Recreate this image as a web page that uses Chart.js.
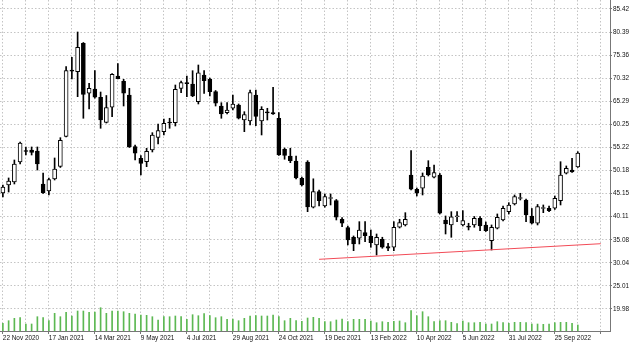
<!DOCTYPE html>
<html>
<head>
<meta charset="utf-8">
<script src="https://cdn.jsdelivr.net/npm/chart.js@4/dist/chart.umd.min.js"></script>
<style>
  html, body { margin: 0; padding: 0; background: #fff; }
</style>
</head>
<body>
<canvas id="chart" width="635" height="343"></canvas>
<script>
"use strict";

// weekly candles, first bar = week of 22 Nov 2020
const WEEK_LABELS = ["22 Nov 2020", "17 Jan 2021", "14 Mar 2021", "9 May 2021", "4 Jul 2021",
  "29 Aug 2021", "24 Oct 2021", "19 Dec 2021", "13 Feb 2022", "10 Apr 2022", "5 Jun 2022",
  "31 Jul 2022", "25 Sep 2022"];

const PRICE_TICKS = [19.98, 25.01, 30.04, 35.08, 40.11, 45.15, 50.18, 55.22, 60.25, 65.29,
  70.32, 75.36, 80.39, 85.42];

const OPEN = [45.29, 47.03, 47.69, 52.05, 54.45, 54.66, 54.45, 47.25, 45.72, 48.34,
  51.07, 57.61, 72.11, 71.74, 77.94, 67.03, 67.97, 66.16, 60.66, 63.98,
  70.80, 69.65, 66.66, 55.38, 52.85, 52.11, 54.66, 57.43, 58.66, 60.66,
  60.62, 68.12, 69.21, 69.06, 65.20, 71.02, 70.08, 67.38, 64.26, 62.80,
  63.76, 64.48, 61.21, 60.99, 66.66, 60.99, 62.82, 62.80, 61.58, 54.82,
  53.36, 52.27, 48.49, 52.05, 42.17, 45.57, 42.45, 44.09, 43.61, 39.55,
  37.72, 35.63, 35.41, 36.63, 35.91, 33.95, 35.19, 33.57, 33.44, 37.81,
  38.31, 49.21, 46.09, 46.31, 50.89, 48.71, 49.21, 39.40, 38.31, 40.10,
  38.31, 38.09, 38.31, 39.77, 38.31, 34.88, 37.59, 39.40, 41.21, 42.89,
  44.09, 43.76, 40.27, 38.68, 41.91, 41.95, 41.95, 43.61, 49.58, 50.30,
  50.96];

const HIGH = [47.03, 48.56, 52.48, 56.41, 55.32, 55.32, 55.32, 49.65, 48.56, 52.92,
  57.35, 72.83, 74.88, 80.40, 78.11, 69.21, 71.96, 67.31, 66.55, 71.35,
  73.53, 70.08, 68.12, 55.76, 53.47, 55.04, 58.44, 60.34, 61.43, 61.58,
  68.84, 69.71, 70.80, 71.96, 73.20, 71.96, 70.37, 67.64, 64.98, 64.98,
  66.66, 64.70, 63.02, 67.75, 67.75, 64.11, 63.76, 68.34, 62.80, 55.10,
  55.04, 53.36, 48.78, 52.33, 48.38, 45.94, 45.07, 45.07, 43.87, 39.94,
  38.09, 35.91, 39.03, 39.03, 37.22, 36.34, 35.63, 34.32, 39.03, 39.55,
  40.99, 54.51, 46.38, 49.65, 52.33, 51.39, 49.54, 40.27, 41.21, 41.21,
  41.43, 38.68, 40.16, 40.16, 38.96, 38.31, 40.71, 42.45, 43.17, 44.85,
  45.22, 43.98, 41.91, 42.78, 42.67, 42.45, 44.63, 52.11, 51.18, 52.85,
  54.29];

const LOW = [44.41, 45.50, 47.25, 51.61, 53.57, 53.57, 50.30, 45.18, 44.85, 48.12,
  50.85, 57.50, 70.15, 66.29, 61.58, 63.61, 65.94, 59.40, 60.55, 61.93,
  70.15, 64.26, 55.21, 52.48, 49.21, 51.02, 54.23, 55.97, 57.94, 59.40,
  59.90, 67.16, 66.29, 66.29, 64.70, 66.99, 66.44, 64.26, 61.58, 62.52,
  63.39, 61.43, 58.66, 60.12, 59.97, 57.94, 61.21, 62.41, 53.47, 52.64,
  51.90, 48.38, 46.81, 41.21, 42.02, 42.45, 42.17, 42.67, 39.40, 37.94,
  33.95, 32.70, 34.16, 34.67, 33.44, 31.76, 33.23, 32.70, 32.70, 37.65,
  38.09, 45.94, 44.63, 44.85, 48.99, 48.56, 40.71, 36.34, 35.62, 39.03,
  38.09, 37.22, 37.81, 37.06, 36.89, 32.85, 37.44, 39.18, 40.71, 42.67,
  43.76, 39.03, 38.53, 38.31, 40.99, 41.21, 41.69, 42.67, 49.43, 49.76,
  50.85];

const CLOSE = [46.60, 47.90, 51.61, 56.19, 54.34, 54.12, 51.61, 45.29, 48.23, 50.52,
  56.78, 71.96, 71.83, 77.06, 66.81, 68.12, 66.16, 61.21, 63.93, 71.18,
  70.22, 67.03, 55.32, 53.95, 51.76, 54.38, 57.94, 58.92, 60.49, 60.55,
  67.90, 69.34, 69.15, 66.44, 71.52, 69.78, 67.38, 64.85, 62.52, 63.39,
  64.70, 61.58, 62.41, 67.21, 62.01, 63.54, 62.76, 62.52, 53.57, 53.47,
  52.33, 48.56, 47.03, 42.23, 45.61, 43.61, 44.48, 44.15, 39.99, 38.68,
  35.04, 34.16, 37.22, 35.97, 34.45, 35.63, 33.44, 33.23, 37.81, 38.81,
  39.55, 46.09, 45.22, 48.99, 49.21, 49.71, 40.86, 38.53, 40.11, 40.16,
  39.25, 37.81, 39.77, 38.09, 37.06, 37.81, 39.99, 41.95, 42.67, 44.48,
  44.15, 40.49, 38.68, 42.30, 41.97, 41.43, 44.13, 49.21, 50.67, 49.87,
  54.01];

// tick volume, thousands
const VOLUME = [7.7, 10.3, 12.7, 13.3, 7, 7, 14.3, 13.3, 10.3, 17.7,
  14.3, 18.7, 15, 20, 20, 18.7, 19, 23.3, 17.7, 20,
  20, 19.3, 17.7, 17, 16, 15.7, 14.3, 11, 14.3, 14.3,
  15, 14.3, 11.7, 16.3, 15.3, 17.3, 15.3, 13.3, 14.3, 11.7,
  12, 10.3, 12.7, 15, 15.3, 15, 15, 16, 14.3, 10.3,
  12.7, 10.3, 9.7, 13, 13.7, 12.7, 9.3, 9.3, 11, 12,
  9.3, 11.7, 11.7, 11.7, 10, 8.3, 9.3, 8.7, 9.7, 10,
  8.3, 20.3, 15.3, 19.3, 14.3, 9.3, 10.3, 10.3, 8.7, 7.5,
  10, 8.3, 8.3, 8.7, 7, 7, 9.3, 8.3, 7.7, 8.7,
  8.7, 8.3, 7, 7, 6.7, 7, 8.3, 8.7, 8.7, 7.7,
  6];

// support trendline: bar index / price
const TREND_X = [55, 104];
const TREND_Y = [30.82, 34.22];

const FONT = { family: "'Liberation Sans', Arial, sans-serif", size: 6.4 };
const GRID = "#c4c4c4";
const AXIS = "#777";

const wicks = OPEN.map((_, i) => ({ x: i, y: [LOW[i], HIGH[i]] }));
const bodies = OPEN.map((o, i) => ({ x: i, y: [o, CLOSE[i]] }));
const bodyFill = OPEN.map((o, i) => (CLOSE[i] >= o ? "#ffffff" : "#000000"));
const vols = VOLUME.map((v, i) => ({ x: i, y: v }));
const trend = TREND_X.map((x, i) => ({ x: x, y: TREND_Y[i] }));

const xTicks = [];
for (let w = 0; w <= 104; w += 4) xTicks.push({ value: w });

new Chart(document.getElementById("chart"), {
  type: "bar",
  data: {
    datasets: [
      {
        type: "line",
        data: trend,
        borderColor: "#f24b57",
        borderWidth: 1,
        pointRadius: 0,
        order: 0,
      },
      {
        data: bodies,
        backgroundColor: bodyFill,
        borderColor: "#000",
        borderWidth: 1,
        borderSkipped: false,
        barThickness: 4,
        minBarLength: 1,
        grouped: false,
        order: 1,
      },
      {
        data: wicks,
        backgroundColor: "#000",
        barThickness: 1,
        grouped: false,
        order: 2,
      },
      {
        data: vols,
        yAxisID: "vol",
        backgroundColor: "#5cb852",
        barThickness: 1,
        grouped: false,
        order: 3,
      },
    ],
  },
  options: {
    responsive: false,
    animation: false,
    devicePixelRatio: 1,
    events: [],
    layout: { padding: 0 },
    plugins: { legend: { display: false }, tooltip: { enabled: false } },
    scales: {
      x: {
        type: "linear",
        position: "bottom",
        min: -0.5,
        max: 105.6,
        offset: false,
        afterBuildTicks: s => { s.ticks = xTicks.map(t => ({ value: t.value })); },
        afterFit: s => {
          s.height = 12;
          s.paddingLeft = 0; s.paddingRight = 0;
        },
        ticks: {
          autoSkip: false,
          maxRotation: 0,
          align: "start",
          padding: 0,
          color: "#111",
          font: FONT,
          callback: v => (v % 8 === 0 ? WEEK_LABELS[v / 8] || "" : ""),
        },
        grid: {
          offset: false,
          color: GRID,
          tickLength: 3,
          tickColor: c => (c.tick && c.tick.value % 8 === 0 ? AXIS : "rgba(0,0,0,0)"),
        },
        border: { color: AXIS, dash: [1.5, 2] },
      },
      y: {
        type: "linear",
        position: "right",
        min: 15.18,
        max: 87.38,
        afterBuildTicks: s => { s.ticks = PRICE_TICKS.map(v => ({ value: v })); },
        afterFit: s => {
          s.width = 25;
          s.paddingTop = 0; s.paddingBottom = 0;
        },
        ticks: {
          padding: 1,
          color: "#111",
          font: FONT,
          callback: v => v.toFixed(2),
        },
        grid: { color: GRID, tickLength: 2, tickColor: AXIS },
        border: { color: AXIS, dash: [1.5, 2] },
      },
      vol: {
        type: "linear",
        display: false,
        min: 0,
        max: 331,
      },
    },
  },
});
</script>
</body>
</html>
